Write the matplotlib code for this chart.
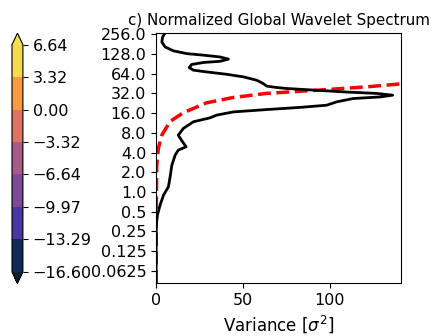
import numpy as np
import matplotlib
matplotlib.use("Agg")
import matplotlib.pyplot as plt
from matplotlib.colors import ListedColormap, BoundaryNorm
from matplotlib.cm import ScalarMappable

# global wavelet spectrum (variance) vs log2(period)
glbl_power = [5.2, 3.8, 3.3, 5.2, 10.0, 17.7, 27.4, 36.9, 41.7, 36.9, 27.4, 20.5,
              19.1, 21.5, 29.2, 40.7, 50.3, 58.0, 61.8, 63.8, 69.5, 75.2, 92.5,
              111.7, 127.1, 136.4, 129.1, 113.7, 104.1, 98.3, 83.0, 63.8, 44.5,
              35.0, 31.1, 21.5, 15.7, 12.8, 14.6, 17.3, 12.8, 11.0, 9.1, 8.1,
              7.1, 4.3, 2.3, 0.8, 0.1, 0.0]
glbl_log2p = [8.07, 7.87, 7.61, 7.36, 7.16, 7.02, 6.94, 6.85, 6.74, 6.63, 6.57, 6.47,
              6.31, 6.18, 6.09, 5.97, 5.84, 5.67, 5.50, 5.37, 5.30, 5.25, 5.16,
              5.06, 5.00, 4.91, 4.82, 4.74, 4.57, 4.40, 4.29, 4.18, 4.06,
              3.90, 3.76, 3.56, 3.22, 2.88, 2.63, 2.29, 2.12, 1.87, 1.36, 0.77,
              0.26, -0.16, -0.67, -1.17, -1.68, -4.62]

# significance level (red noise)
signif = [0.0, 0.1, 0.4, 1.3, 3.3, 8.1, 15.7, 29.0, 44.3, 63.6, 92.5, 121.0, 139.3, 160.0]
signif_log2p = [-4.62, -1.0, 1.36, 2.21, 2.88, 3.58, 4.02, 4.52, 4.79, 5.0, 5.16, 5.33, 5.47, 5.6]

# theoretical fft spectrum, ~0 after normalization
theor = [0.2, 0.2]
theor_log2p = [-4.62, 8.07]

yticks = [0.0625, 0.125, 0.25, 0.5, 1.0, 2.0, 4.0, 8.0, 16.0, 32.0, 64.0, 128.0, 256.0]

levels = [-16.60, -13.29, -9.97, -6.64, -3.32, 0.00, 3.32, 6.64]
level_labels = ['\u221216.60', '\u221213.29', '\u22129.97', '\u22126.64', '\u22123.32',
                '0.00', '3.32', '6.64']
colors = ['#0e2c55', '#4a36a2', '#7d4a98', '#a85a88', '#e07262', '#f99b3e', '#f4dc4e']
under_color = '#0c1f33'
over_color = '#f4e050'

fig = plt.figure(figsize=(4.36, 3.36), dpi=100)
ax = fig.add_axes([0.358, 0.158, 0.562, 0.744])
cax = fig.add_axes([0.0275, 0.157, 0.025, 0.744])

ax.plot(theor, theor_log2p, '--', color='#cccccc', linewidth=1.5)
ax.plot(signif, signif_log2p, '--', color='red', linewidth=2.5)
ax.plot(glbl_power, glbl_log2p, 'k-', linewidth=2)

ax.set_xlim(0, 141.3)
ax.set_ylim(-4.62, 8.07)
ax.set_yticks(np.log2(yticks))
ax.set_yticklabels([str(t) for t in yticks])
ax.set_xticks([0, 50, 100])
ax.tick_params(labelsize=11.5)
ax.set_xlabel(r'Variance [$\sigma^2$]', fontsize=12)
ax.set_title('c) Normalized Global Wavelet Spectrum', fontsize=10.9)

cmap = ListedColormap(colors)
cmap.set_under(under_color)
cmap.set_over(over_color)
norm = BoundaryNorm(levels, cmap.N)
sm = ScalarMappable(norm=norm, cmap=cmap)
cb = fig.colorbar(sm, cax=cax, extend='both', ticks=levels)
cb.ax.set_yticklabels(level_labels)
cb.ax.tick_params(labelsize=11.5)

fig.savefig('out.png', dpi=100)
